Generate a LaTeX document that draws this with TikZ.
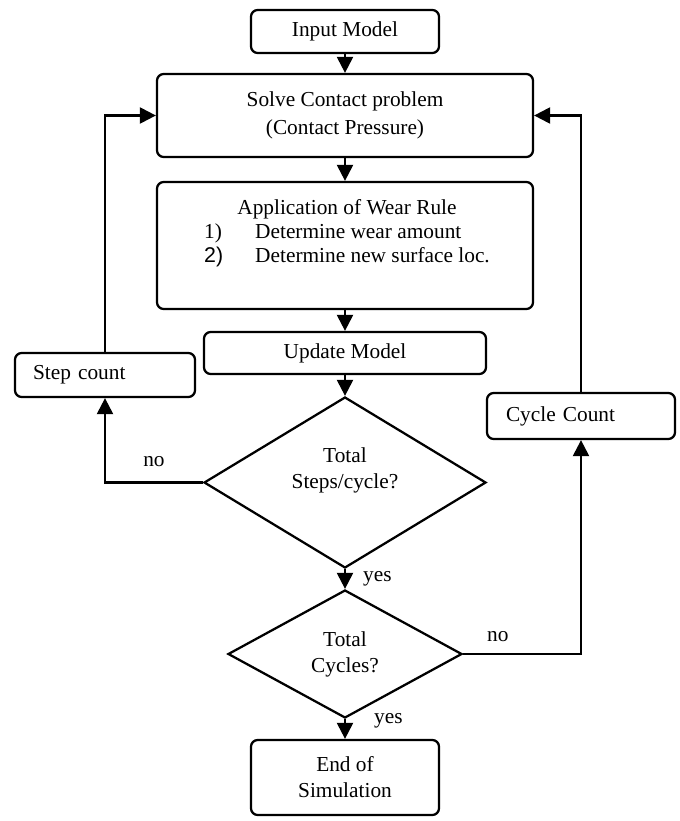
\documentclass[tikz,border=0pt]{standalone}
\usepackage{fontspec}
\setmainfont{Liberation Serif}
\setsansfont{Liberation Sans}
\usetikzlibrary{arrows.meta,shapes.geometric}

\begin{document}
\begin{tikzpicture}[x=0.75pt,y=-0.75pt,
  line width=1.7pt,
  font=\fontsize{16pt}{19.5pt}\selectfont,
  box/.style={draw, rounded corners=5pt, inner sep=0pt, align=center},
  leftbox/.style={draw, rounded corners=5pt, inner ysep=0pt, align=left},
  decision/.style={draw, diamond, inner sep=0pt, align=center},
  flow/.style={-{Triangle[length=12pt,width=12pt]}},
  tag/.style={inner sep=0pt}
]
\useasboundingbox (0,0) rectangle (680,821);

% process boxes
\node[box, minimum width=141pt, minimum height=32.25pt] (input) at (345,31.5) {Input Model};
\node[box, minimum width=282pt, minimum height=62.25pt] (solve) at (345,115.5)
  {Solve Contact problem\\[1.5pt](Contact Pressure)};
\node[box, minimum width=282pt, minimum height=95.25pt,
  label={[tag, xshift=1.5pt, yshift=8.6pt, font=\fontsize{16pt}{18pt}\selectfont]center:{%
    \begin{tabular}{@{}p{38.25pt}@{}l@{}}
      \multicolumn{2}{@{}c@{}}{Application of Wear Rule}\\
      1) & Determine wear amount\\
      {\sffamily 2)} & Determine new surface loc.
    \end{tabular}}}] (wear) at (345,245.5) {};
\node[box, minimum width=211.5pt, minimum height=31.5pt] (update) at (345,353) {Update Model};

% counters
\node[leftbox, inner xsep=13.5pt, text width=108pt, minimum height=33pt] (stepc) at (105,375) {Step count};
\node[leftbox, inner xsep=14.25pt, text width=112.5pt, minimum height=34.5pt] (cyclec) at (581,416) {Cycle Count};

% decisions
\node[decision, aspect=1.65, minimum width=211.5pt, minimum height=128.25pt,
  label={[tag, align=center, yshift=9.4pt]center:{Total\\Steps/cycle?}}] (d1) at (345,482.5) {};
\node[decision, aspect=1.83, minimum width=175.5pt, minimum height=96pt] (d2) at (345,654) {Total\\Cycles?};

% end
\node[box, minimum width=141pt, minimum height=56.25pt] (endn) at (345,777.5) {End of\\Simulation};

% main flow
\draw[flow] (input.south) -- (solve.north);
\draw[flow] (solve.south) -- (wear.north);
\draw[flow] (wear.south) -- (update.north);
\draw[flow] (update.south) -- (d1.north);
\draw[flow] (d1.south) -- node[tag, pos=0.5, right=12.75pt] {yes} (d2.north);
\draw[flow] (d2.south) -- node[tag, pos=0.09, right=21pt] {yes} (endn.north);

% loops
\draw[flow] (d1.west) -| node[tag, pos=0.25, above=11.25pt] {no} (stepc.south);
\draw[flow] (stepc.north) |- (solve.west);
\draw[flow] (d2.east) -| node[tag, pos=0.147, above=8.25pt] {no} (cyclec.south);
\draw[flow] (cyclec.north) |- (solve.east);
\end{tikzpicture}
\end{document}
